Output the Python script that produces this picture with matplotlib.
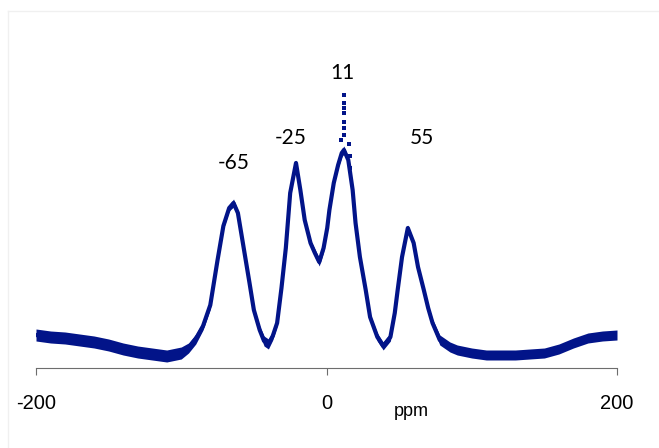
import numpy as np
import matplotlib
matplotlib.use("Agg")
import matplotlib.pyplot as plt

# spectrum (ppm, intensity, half-width of the noise band)
ppm = [-200, -190, -180, -170, -160, -150, -140, -130, -120, -110, -100, -95,
       -90, -85, -80, -75, -71, -67, -64, -61, -57, -53, -50, -46, -43, -40,
       -37, -34, -31, -28, -25, -21, -18, -15, -11, -8, -5, -2, 0.5, 2, 5, 8,
       10.5, 12, 15, 18, 20, 23, 27, 30, 35, 39, 44, 47, 49, 52, 56,
       60, 63, 67, 70, 73, 78, 85, 90, 100, 110, 120, 130, 140, 150, 160, 170,
       180, 190, 200]
intensity = [33, 31, 30, 28, 26, 23, 19, 16, 14, 12, 15, 20,
             29, 42, 63, 108, 142, 160, 165, 155, 120, 85, 58, 38, 27, 24,
             32, 45, 80, 120, 175, 205, 178, 148, 125, 115, 106, 120, 140, 158, 185, 203,
             215, 218, 208, 178, 145, 111, 78, 51, 31, 22, 31, 55, 78, 111, 140,
             125, 101, 78, 60, 45, 28, 21, 18, 15, 13, 13, 13, 14, 15, 19, 25,
             30, 32, 33]
noise = [6, 6, 6, 6, 6, 6, 6, 6, 6, 6, 6, 5,
         5, 4, 4, 3, 3, 3, 4, 3, 3, 3, 3, 4, 5, 5,
         4, 3, 3, 3, 3, 3, 3, 3, 3, 4, 4, 4, 3, 3, 3, 3,
         4, 4, 3, 3, 3, 3, 3, 3, 4, 4, 4, 3, 3, 3, 3,
         3, 3, 3, 3, 4, 5, 5, 5, 5, 5, 5, 5, 5, 5, 5, 5,
         5, 5, 5]

# isolated points of the sharp spike near 11 ppm
spike_ppm = [11.8, 11.8, 11.9, 11.9, 12.0, 12.0, 12.1, 10.2, 15.5, 16.0, 16.5]
spike_int = [273, 265, 260, 255, 246, 240, 233, 228, 224, 212, 200]

peak_labels = ["-65", "-25", "11", "55"]
peak_pos = [-64, -25, 11, 66]
peak_y = [205, 230, 295, 230]

x = np.array(ppm, dtype=float)
y = np.array(intensity, dtype=float)
hw = np.array(noise, dtype=float)

W, H = 659, 448
fig = plt.figure(figsize=(W / 100, H / 100), dpi=100)
ax = fig.add_axes([36 / W, 1 - 368 / H, (617 - 36) / W, (368 - 20) / H])

col = "#021489"
ax.fill_between(x, y - hw, y + hw, color=col, linewidth=0)
ax.plot(x, y, color=col, lw=3, solid_joinstyle="round")
ax.scatter(spike_ppm, spike_int, s=5, marker="s", color=col, linewidths=0)

ax.set_xlim(-200, 200)
ax.set_ylim(0, 348)
ax.set_xticks([-200, 0, 200])
ax.set_xticklabels(["-200", "0", "200"], fontfamily="Liberation Sans", fontsize=14.5)
ax.set_yticks([])
for s in ["left", "top", "right"]:
    ax.spines[s].set_visible(False)
ax.spines["bottom"].set_color("#6d6d6d")
ax.tick_params(axis="x", direction="out", length=5, color="#6d6d6d", pad=14)
ax.patch.set_alpha(0)

for lab, px, py in zip(peak_labels, peak_pos, peak_y):
    ax.text(px, py, lab, ha="center", va="center", fontfamily="Lato", fontsize=15)

fig.text(411 / W, 1 - 412 / H, "ppm", ha="center", va="center",
         fontfamily="Liberation Sans", fontsize=13)

# faint chart-area frame
fig.add_artist(plt.Line2D([8 / W, 8 / W], [0, 1 - 11 / H], color="#f0f0f0", lw=1))
fig.add_artist(plt.Line2D([8 / W, 1], [1 - 11 / H, 1 - 11 / H], color="#f0f0f0", lw=1))

fig.savefig("out.png", dpi=100)
